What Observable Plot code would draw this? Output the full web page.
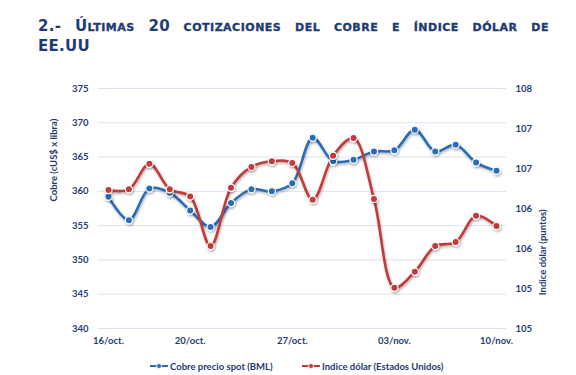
<!DOCTYPE html>
<html>
<head>
<meta charset="utf-8">
<script src="https://cdn.jsdelivr.net/npm/d3@7"></script>
<script src="https://cdn.jsdelivr.net/npm/@observablehq/plot@0.6"></script>
<style>
  html, body { margin: 0; padding: 0; background: #fff; width: 576px; height: 375px; overflow: hidden; position: relative; }
  #title { position: absolute; left: 38px; top: 17px; width: 511px; font-family: "DejaVu Sans", Verdana, sans-serif; font-weight: bold; font-size: 15px; line-height: 18px; color: #1f3b73; letter-spacing: 0.3px; }
  #title .l1 { text-align: justify; text-align-last: justify; white-space: nowrap; }
  #title .sc { font-size: 11px; -webkit-text-stroke: 0.35px #1f3b73; letter-spacing: 0.5px; }
  #chart { position: absolute; left: 0; top: 60px; }
  #legend { position: absolute; top: 359px; left: 0; width: 576px; height: 14px; font-family: Lato, sans-serif; font-weight: bold; font-size: 9.5px; color: #1f3b73; }
  .item { position: absolute; top: 0; display: flex; align-items: center; height: 14px; white-space: nowrap; }
  .item svg { margin-right: 2px; }
</style>
</head>
<body>
<div id="title"><div class="l1">2.- Ú<span class="sc">LTIMAS</span> 20 <span class="sc">COTIZACIONES</span> <span class="sc">DEL</span> <span class="sc">COBRE</span> <span class="sc">E</span> <span class="sc">ÍNDICE</span> <span class="sc">DÓLAR</span> <span class="sc">DE</span></div><div class="l2">EE.UU</div></div>
<div id="chart"></div>
<div id="legend"></div>
<script>
const dates = ["16/oct.","17/oct.","18/oct.","19/oct.","20/oct.","23/oct.","24/oct.","25/oct.","26/oct.","27/oct.","30/oct.","31/oct.","01/nov.","02/nov.","03/nov.","06/nov.","07/nov.","08/nov.","09/nov.","10/nov."];
const cobre = [359.2,355.8,360.4,359.8,357.2,354.8,358.3,360.3,360.0,361.2,367.8,364.4,364.6,365.8,366.0,369.0,365.8,366.8,364.2,363.0];
const dolar = [106.73,106.74,107.06,106.74,106.65,106.03,106.76,107.02,107.09,107.07,106.61,107.16,107.38,106.62,105.51,105.71,106.03,106.08,106.41,106.28];
const xTickIdx = [0,4,9,14,19];
const leftTicks = [340,345,350,355,360,365,370,375];
const rightTicks = [105,105.5,106,106.5,107,107.5,108];
const rightLabels = ["105","105","106","106","107","107","108"];
const seriesNames = ["Cobre precio spot (BML)", "Indice dólar (Estados Unidos)"];
const leftTitle = "Cobre (cUS$ x libra)";
const rightTitle = "Indice dólar (puntos)";

const navy = "#1f3b73";
const blue = "#2b6cb8";
const red = "#c23a3a";

// map right-axis (dólar) values onto the left (cobre) scale domain
const leftDomain = [340, 375];
const rightDomain = [105, 108];
const toLeft = v => leftDomain[0] + (v - rightDomain[0]) * (leftDomain[1] - leftDomain[0]) / (rightDomain[1] - rightDomain[0]);

const cobreData = cobre.map((v, i) => ({i, v}));
const dolarData = dolar.map((v, i) => ({i, v: toLeft(v)}));
const rightPos = rightTicks.map(toLeft);
const rightFmt = d => {
  let best = 0;
  rightPos.forEach((p, k) => { if (Math.abs(p - d) < Math.abs(rightPos[best] - d)) best = k; });
  return rightLabels[best];
};

const chart = Plot.plot({
  width: 576, height: 290,
  marginTop: 28, marginBottom: 22, marginLeft: 108, marginRight: 80,
  x: {domain: [0, 19]},
  y: {domain: leftDomain},
  style: {fontFamily: "Lato, sans-serif", fontSize: "9.5px", fontWeight: "bold", color: navy, background: "transparent"},
  marks: [
    Plot.ruleY(leftTicks, {y: d => d, x1: -0.5, x2: 19.5, stroke: "#dbe3ee", strokeWidth: 1}),
    Plot.axisY(leftTicks, {anchor: "left", tickSize: 0, tickPadding: 20, label: null, tickFormat: d => String(d)}),
    Plot.axisY(rightPos, {anchor: "right", tickSize: 0, tickPadding: 19, label: null, tickFormat: rightFmt}),
    Plot.axisX(xTickIdx, {anchor: "bottom", tickSize: 0, tickPadding: 9, label: null, tickFormat: i => dates[i]}),
    Plot.text([leftTitle], {frameAnchor: "left", dx: -55, dy: -7, rotate: -90, text: d => d, fill: navy, fontSize: 9.5}),
    Plot.text([rightTitle], {frameAnchor: "right", dx: 46, dy: 1, rotate: -90, text: d => d, fill: navy, fontSize: 9.5}),
    Plot.line(cobreData, {x: "i", y: "v", stroke: blue, strokeWidth: 2.6, curve: "catmull-rom"}),
    Plot.line(dolarData, {x: "i", y: "v", stroke: red, strokeWidth: 2.6, curve: "catmull-rom"}),
    Plot.dot(cobreData, {x: "i", y: "v", r: 3.6, fill: blue, stroke: "white", strokeWidth: 1.2}),
    Plot.dot(dolarData, {x: "i", y: "v", r: 3.6, fill: red, stroke: "white", strokeWidth: 1.2})
  ]
});

// subtle drop shadow like the original
const svgNS = "http://www.w3.org/2000/svg";
const defs = document.createElementNS(svgNS, "defs");
defs.innerHTML = '<filter id="sh" x="-10%" y="-10%" width="120%" height="130%"><feDropShadow dx="0.8" dy="1.6" stdDeviation="1" flood-color="#000" flood-opacity="0.3"/></filter>';
chart.insertBefore(defs, chart.firstChild);
chart.querySelectorAll('g[aria-label="line"], g[aria-label="dot"]').forEach(g => g.setAttribute("filter", "url(#sh)"));
document.getElementById("chart").appendChild(chart);

// legend
const legend = document.getElementById("legend");
[[seriesNames[0], blue, 150], [seriesNames[1], red, 302]].forEach(([name, color, left]) => {
  const item = document.createElement("div");
  item.className = "item";
  item.style.left = left + "px";
  item.innerHTML = `<svg width="18" height="8"><line x1="0" x2="18" y1="4" y2="4" stroke="${color}" stroke-width="2"/><circle cx="9" cy="4" r="2.5" fill="${color}" stroke="white" stroke-width="0.8"/></svg><span>${name}</span>`;
  legend.appendChild(item);
});
</script>
</body>
</html>
